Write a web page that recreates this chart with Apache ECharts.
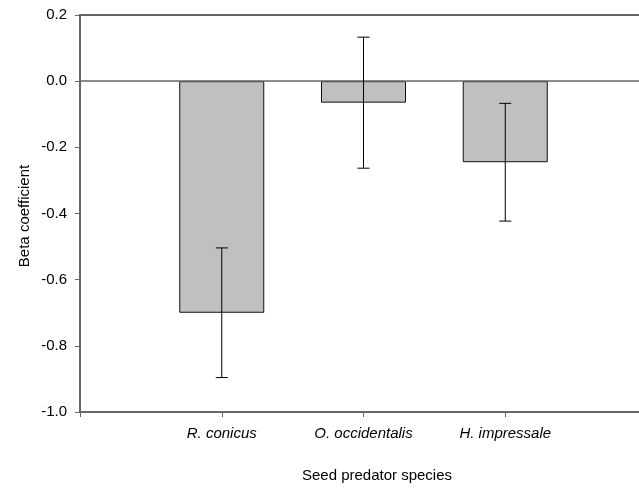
<!DOCTYPE html>
<html>
<head>
<meta charset="utf-8">
<script src="https://cdn.jsdelivr.net/npm/echarts@6/dist/echarts.min.js"></script>
<style>
  html, body { margin: 0; padding: 0; background: #fff; }
  #chart { width: 639px; height: 489px; }
</style>
</head>
<body>
<div id="chart"></div>
<script>
// Species (one bar each), beta coefficients and their error half-widths
const species = ['R. conicus', 'O. occidentalis', 'H. impressale'];
const beta = [-0.70, -0.065, -0.245];
const betaErr = [0.196, 0.198, 0.178];
const yTicks = [-1.0, -0.8, -0.6, -0.4, -0.2, 0.0, 0.2];

const FONT = 'Liberation Sans, Arial, sans-serif';
const AXIS_GREY = '#666666';

// Bars sit at positions 1..n on a 0..n+1 value axis
const barData = beta.map((v, i) => [i + 1, v]);
const errData = beta.map((v, i) => [i + 1, v - betaErr[i], v + betaErr[i]]);

const chart = echarts.init(document.getElementById('chart'), null, { renderer: 'canvas' });

chart.setOption({
  animation: false,
  backgroundColor: '#ffffff',
  // plot frame runs past the right edge of the canvas
  grid: { left: 80, right: -8, top: 15, bottom: 77, containLabel: false, outerBoundsMode: 'none' },
  xAxis: [
    {
      type: 'value', min: 0, max: species.length + 1, interval: 1,
      position: 'bottom',
      axisLine: { show: true, onZero: false, lineStyle: { color: AXIS_GREY, width: 2 } },
      axisTick: { show: true, length: 5, lineStyle: { color: AXIS_GREY, width: 1 } },
      splitLine: { show: false },
      axisLabel: {
        margin: 14, fontSize: 15, fontFamily: FONT, fontStyle: 'italic', color: '#000',
        formatter: v => species[v - 1] || ''
      }
    },
    {
      type: 'value', min: 0, max: species.length + 1, interval: 1,
      position: 'top',
      axisLine: { show: true, onZero: false, lineStyle: { color: AXIS_GREY, width: 2 } },
      axisTick: { show: false }, axisLabel: { show: false }, splitLine: { show: false }
    }
  ],
  yAxis: {
    type: 'value', min: yTicks[0], max: yTicks[yTicks.length - 1], interval: 0.2,
    axisLine: { show: true, onZero: false, lineStyle: { color: AXIS_GREY, width: 2 } },
    axisTick: { show: true, length: 5, lineStyle: { color: AXIS_GREY, width: 1 } },
    splitLine: { show: false },
    axisLabel: {
      margin: 13, fontSize: 15, fontFamily: FONT, color: '#000',
      formatter: v => v.toFixed(1)
    }
  },
  series: [
    {
      type: 'bar',
      data: barData,
      barWidth: 85,
      itemStyle: { color: '#c0c0c0', borderColor: '#111', borderWidth: 1 },
      markLine: {
        silent: true, symbol: 'none', label: { show: false },
        lineStyle: { color: AXIS_GREY, width: 1.5, type: 'solid' },
        data: [{ yAxis: 0 }]
      },
      z: 2
    },
    {
      type: 'custom',
      data: errData,
      z: 5,
      renderItem: (params, api) => {
        const x = api.value(0);
        const lo = api.coord([x, api.value(1)]);
        const hi = api.coord([x, api.value(2)]);
        const cap = 6;
        const style = { stroke: '#000', lineWidth: 1 };
        return {
          type: 'group',
          children: [
            { type: 'line', shape: { x1: lo[0], y1: lo[1], x2: hi[0], y2: hi[1] }, style },
            { type: 'line', shape: { x1: lo[0] - cap, y1: lo[1], x2: lo[0] + cap, y2: lo[1] }, style },
            { type: 'line', shape: { x1: hi[0] - cap, y1: hi[1], x2: hi[0] + cap, y2: hi[1] }, style }
          ]
        };
      }
    }
  ],
  graphic: [
    {
      type: 'text', x: 377, y: 476,
      style: { text: 'Seed predator species', font: '15px ' + FONT, fill: '#000',
               textAlign: 'center', textVerticalAlign: 'middle' }
    },
    {
      type: 'text', x: 25, y: 216, rotation: Math.PI / 2,
      style: { text: 'Beta coefficient', font: '15px ' + FONT, fill: '#000',
               textAlign: 'center', textVerticalAlign: 'middle' }
    }
  ]
});
</script>
</body>
</html>
